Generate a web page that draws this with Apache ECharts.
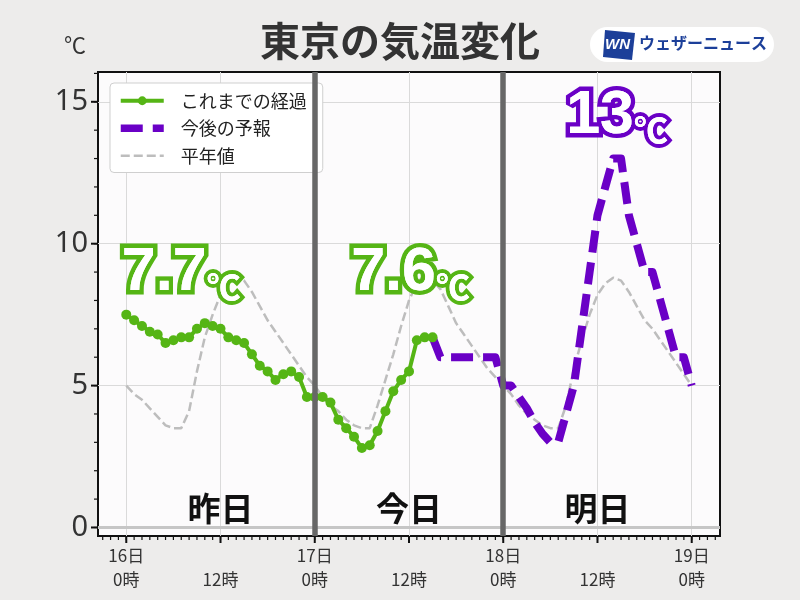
<!DOCTYPE html>
<html><head><meta charset="utf-8">
<script src="https://cdn.jsdelivr.net/npm/echarts@6/dist/echarts.min.js"></script>
<style>html,body{margin:0;padding:0;background:#edeceb}#c{width:800px;height:600px}</style>
</head><body><div id="c"></div>
<script>
// ---- data ----
const obsStartHour = 0;
const obsTemps = [7.5,7.3,7.1,6.9,6.8,6.5,6.6,6.7,6.7,7.0,7.2,7.1,7.0,6.7,6.6,6.5,6.1,5.7,5.5,5.2,5.4,5.5,5.3,4.6,
                  4.6,4.6,4.4,3.8,3.5,3.2,2.8,2.9,3.4,4.1,4.8,5.2,5.5,6.6,6.7,6.7];
const fcstStartHour = 39;
const fcstTemps = [6.7,6,6,6,6,6,6,6,6,5,5,4.6,4.2,3.7,3.3,3,3,4,5,7,9,11,12,13,13,11,10,9,9,8,7,6,6,5];
const normStartHour = 0;
const normTemps = [5.0,4.7,4.5,4.2,3.9,3.6,3.5,3.5,4.1,5.5,6.7,7.5,
                   8.2,8.7,8.9,8.7,8.3,7.8,7.3,6.9,6.5,6.1,5.7,5.3,
                   5.0,4.6,4.3,4.1,3.8,3.6,3.5,3.5,4.3,5.2,6.1,7.1,
                   8.0,8.6,8.9,8.7,8.4,7.8,7.2,6.8,6.4,6.0,5.6,5.3,
                   5.0,4.7,4.3,4.0,3.8,3.6,3.5,3.5,4.3,5.6,6.6,7.5,
                   8.2,8.6,8.8,8.7,8.3,7.8,7.3,7.0,6.6,6.2,5.8,5.4,5.0];
const seriesNames = ['これまでの経過','今後の予報','平年値'];
const xTickHours = [0,12,24,36,48,60,72];
const xTickLabels = ['16日\n0時','\n12時','17日\n0時','\n12時','18日\n0時','\n12時','19日\n0時'];
const yTickValues = [0,5,10,15];
const dayBoundaryHours = [24,48];
const dayNames = ['昨日','今日','明日'];
const dayCenterHours = [12,36,60];
const peakTexts = ['7.7','7.6','13'];

// ---- layout / style ----
const GREEN = '#55b515', PURPLE = '#6a00c6', GRAY = '#bdbdbd';
const peakPos = [[7.0,8.93],[36.2,8.93],[62.5,14.47]];
const peakColors = [GREEN, GREEN, PURPLE];
const X_MIN = -3.6, X_MAX = 75.6, Y_MIN = -0.3, Y_MAX = 16.05;
const GRID = {left:98, right:80, top:72, bottom:64};

function pairs(start, arr){ return arr.map((v,i)=>[start+i, v]); }
const minorX = []; for (let h=-3; h<=75; h++) minorX.push(h);
const minorY = []; for (let v=0; v<=16; v++) minorY.push(v);

function peakLabel(text, color, stroke){
  const bw = stroke ? 9 : 0;
  const bc = stroke ? color : 'transparent';
  return {
    show:true, position:'inside',
    formatter:'{v|'+text+'}{u|℃}',
    rich:{
      v:{fontSize:61, fontWeight:'bold', fontFamily:'Liberation Sans', color:'#fff',
         textBorderColor:bc, textBorderWidth:bw, verticalAlign:'bottom', lineHeight:60},
      u:{fontSize:34, fontWeight:'bold', fontFamily:'Noto Sans CJK JP', color:'#fff',
         textBorderColor:bc, textBorderWidth:bw ? 8 : 0, verticalAlign:'bottom', lineHeight:44}
    }
  };
}

const chart = echarts.init(document.getElementById('c'), null, {renderer:'canvas'});
const axisFont = {fontFamily:'Noto Sans CJK JP', color:'#333'};
const baseGraphic = [
    {type:'text', left:64, top:34, style:{text:'℃', fontSize:22, fill:'#333', fontFamily:'Noto Sans CJK JP'}},
    {type:'rect', shape:{x:590, y:27, width:184, height:35, r:17.5}, style:{fill:'#fff'}},
    {type:'polygon', shape:{points:[[605,30],[635,33],[632,60],[603,57]]}, style:{fill:'#1c3f99'}},
    {type:'text', x:605, y:37, style:{text:'WN', fontSize:15, fontWeight:'bold', fontStyle:'italic', fill:'#fff', fontFamily:'Liberation Sans'}},
    {type:'text', x:639, y:35, style:{text:'ウェザーニュース', fontSize:16, fontWeight:'bold', fill:'#1c3f99', fontFamily:'Noto Sans CJK JP'}}
];
chart.setOption({
  backgroundColor:'#edeceb',
  animation:false,
  title:{text:'東京の気温変化', left:'center', top:16,
    textStyle:{fontSize:40, fontWeight:'bold', color:'#333', fontFamily:'Noto Sans CJK JP'}},
  grid:{...GRID, show:true, backgroundColor:'#fcfbfc', borderColor:'#111', borderWidth:2, containLabel:false},
  legend:{
    left:110, top:83, orient:'vertical',
    backgroundColor:'#fff', borderColor:'#cfcfcf', borderWidth:1, borderRadius:4,
    padding:[4,16,3,7], itemGap:0, itemWidth:43, itemHeight:11,
    textStyle:{fontSize:18, color:'#222', fontFamily:'Noto Sans CJK JP', lineHeight:27.5, padding:[0,0,0,12]},
    data:[
      {name:seriesNames[0], lineStyle:{width:4}},
      {name:seriesNames[1], itemStyle:{opacity:0}, lineStyle:{width:7.5, type:[22,10]}},
      {name:seriesNames[2], itemStyle:{opacity:0}, lineStyle:{width:2.5, type:[9,4]}}
    ]
  },
  xAxis:{
    type:'value', min:X_MIN, max:X_MAX, position:'bottom',
    axisLine:{show:false, onZero:false},
    axisTick:{show:false, customValues:xTickHours},
    axisLabel:{show:true, customValues:xTickHours, margin:8, fontSize:17, lineHeight:24, ...axisFont,
      formatter:(v)=>{ const i = xTickHours.indexOf(Math.round(v)); return i>=0 ? xTickLabels[i] : ''; }},
    splitLine:{show:true, lineStyle:{color:'#dadada', width:1}}
  },
  yAxis:{
    type:'value', min:Y_MIN, max:Y_MAX, position:'left',
    axisLine:{show:false, onZero:false},
    axisTick:{show:false, customValues:yTickValues},
    axisLabel:{show:true, customValues:yTickValues, margin:10, fontSize:29, fontFamily:'Noto Sans', color:'#333'},
    splitLine:{show:true, lineStyle:{color:'#dadada', width:1}}
  },
  graphic:baseGraphic,
  series:[
    {
      name:seriesNames[2], type:'line', z:1, data:pairs(normStartHour, normTemps),
      symbol:'none', lineStyle:{color:GRAY, width:2.5, type:[9,4]}, itemStyle:{color:GRAY},
      markLine:{silent:true, symbol:'none', z:0, label:{show:false},
        lineStyle:{color:'#c6c6c6', width:3, type:'solid'}, data:[{yAxis:0}]}
    },
    {
      name:seriesNames[1], type:'line', z:2, data:pairs(fcstStartHour, fcstTemps),
      symbol:'none', lineStyle:{color:PURPLE, width:8, type:[22,10], join:'round'}, itemStyle:{color:PURPLE}
    },
    {
      name:seriesNames[0], type:'line', z:3, data:pairs(obsStartHour, obsTemps),
      symbol:'circle', symbolSize:10, showSymbol:true,
      lineStyle:{color:GREEN, width:4}, itemStyle:{color:GREEN}
    },
    {
      name:'markers', type:'line', z:4, data:[], symbol:'none',
      markLine:{silent:true, symbol:'none', label:{show:false},
        lineStyle:{color:'#676767', width:5.5, type:'solid'},
        data:dayBoundaryHours.map(h=>({xAxis:h}))},
      markPoint:{silent:true, symbol:'circle', symbolSize:0,
        data:[
          ...dayNames.map((n,i)=>({name:n, coord:[dayCenterHours[i], 0.67],
            label:{show:true, position:'inside', formatter:n, fontSize:33, fontWeight:'bold', color:'#111', fontFamily:'Noto Sans CJK JP'}})),
          ...peakTexts.map((t,i)=>({name:t, coord:peakPos[i], label:peakLabel(t, peakColors[i], true)}))
        ]}
    },
    {
      name:'markersTop', type:'line', z:6, data:[], symbol:'none',
      markPoint:{silent:true, symbol:'circle', symbolSize:0, z:8,
        data:peakTexts.map((t,i)=>({name:t, coord:peakPos[i], label:peakLabel(t, peakColors[i], false)}))}
    }
  ]
});

// axis tick marks (filled rects), positioned through the axes' own scales
function toPx(v){
  let p = null;
  try { p = chart.convertToPixel({xAxisIndex:0, yAxisIndex:0}, v); } catch(e) { p = null; }
  if (!p || !isFinite(p[0]) || !isFinite(p[1])) {
    const w = 800 - GRID.left - GRID.right, h = 600 - GRID.top - GRID.bottom;
    p = [GRID.left + (v[0]-X_MIN)/(X_MAX-X_MIN)*w, GRID.top + (Y_MAX-v[1])/(Y_MAX-Y_MIN)*h];
  }
  return p;
}
const ticks = [];
function addX(values, len, w){
  values.forEach(v=>{ const p = toPx([v, Y_MIN]);
    ticks.push({type:'rect', z:100, shape:{x:p[0]-w/2, y:p[1]+1, width:w, height:len}, style:{fill:'#111'}}); });
}
function addY(values, len, w){
  values.forEach(v=>{ const p = toPx([X_MIN, v]);
    ticks.push({type:'rect', z:100, shape:{x:p[0]-1-len, y:p[1]-w/2, width:len, height:w}, style:{fill:'#111'}}); });
}
addX(xTickHours, 6, 2); addX(minorX, 3, 1.2);
addY(yTickValues, 6, 2); addY(minorY, 3, 1.2);
chart.setOption({graphic: baseGraphic.concat(ticks)}, {replaceMerge:['graphic']});
</script></body></html>
